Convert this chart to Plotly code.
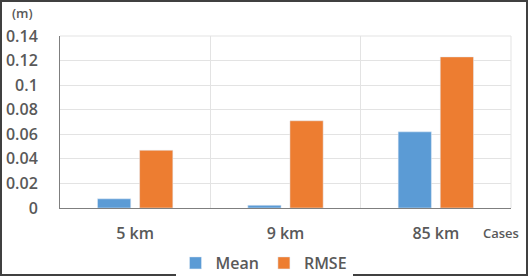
import plotly.graph_objects as go

categories = ["5 km", "9 km", "85 km"]
mean_vals = [0.0075, 0.0022, 0.062]
rmse_vals = [0.047, 0.071, 0.123]
y_ticks = [0, 0.02, 0.04, 0.06, 0.08, 0.1, 0.12, 0.14]
y_tick_labels = ["0", "0.02", "0.04", "0.06", "0.08", "0.1", "0.12", "0.14"]

FONT = "Open Sans"
TXT = "#595959"

fig = go.Figure()
fig.add_trace(go.Bar(x=categories, y=mean_vals, name="Mean", marker_color="#5B9BD5"))
fig.add_trace(go.Bar(x=categories, y=rmse_vals, name="RMSE", marker_color="#ED7D31"))

W, H = 528, 276
ml, mr, mt, mb = 60, 17, 36, 68
pw = W - ml - mr
ph = H - mt - mb

fig.update_layout(
    width=W, height=H,
    margin=dict(l=ml, r=mr, t=mt, b=mb, pad=0, autoexpand=False),
    paper_bgcolor="white", plot_bgcolor="white",
    barmode="group", bargap=0.44, bargroupgap=0.21,
    font=dict(family=FONT, color=TXT),
    showlegend=True,
    legend=dict(orientation="h", xref="container", yref="paper",
                x=0.5, xanchor="center", y=-(263 - (H - mb)) / ph, yanchor="middle",
                font=dict(size=16, family=FONT, color=TXT, weight=600),
                itemwidth=30, traceorder="normal"),
    xaxis=dict(type="category", tickson="boundaries", showgrid=True,
               gridcolor="#e3e3e3", gridwidth=1, automargin=False,
               showline=True, linecolor="#7f7f7f", linewidth=1,
               ticks="", ticklabelstandoff=11,
               tickfont=dict(size=16, family=FONT, color=TXT, weight=600),
               zeroline=False),
    yaxis=dict(range=[0, 0.14], tickvals=y_ticks, ticktext=y_tick_labels,
               showgrid=True, gridcolor="#e3e3e3", gridwidth=1, automargin=False,
               showline=True, linecolor="#7f7f7f", linewidth=1,
               ticks="outside", ticklen=18, tickcolor="rgba(0,0,0,0)",
               tickfont=dict(size=16, family=FONT, color=TXT, weight=600),
               zeroline=False),
)

# top gridline and right boundary
fig.add_shape(type="line", xref="paper", yref="paper", x0=0, x1=1, y0=1, y1=1,
              line=dict(color="#e3e3e3", width=1))
fig.add_shape(type="line", xref="paper", yref="paper", x0=1, x1=1, y0=0, y1=1,
              line=dict(color="#e3e3e3", width=1))

# outer border
fig.add_shape(type="rect", xref="paper", yref="paper",
              x0=(-ml + 1) / pw, x1=1 + (mr - 1) / pw,
              y0=(-mb + 1) / ph, y1=1 + (mt - 1) / ph,
              line=dict(color="#404040", width=2), layer="above")

fig.add_annotation(text="(m)", xref="paper", yref="paper",
                   x=(22 - ml) / pw, y=1 + (mt - 13) / ph,
                   showarrow=False, xanchor="center", yanchor="middle",
                   font=dict(size=13, family=FONT, color=TXT, weight=600))
fig.add_annotation(text="Cases", xref="paper", yref="paper",
                   x=(501 - ml) / pw, y=-(233 - (H - mb)) / ph,
                   showarrow=False, xanchor="center", yanchor="middle",
                   font=dict(size=13, family=FONT, color=TXT, weight=600))

fig.write_html("out.html", config={"displayModeBar": False},
               post_script="document.body.style.margin='0';")
